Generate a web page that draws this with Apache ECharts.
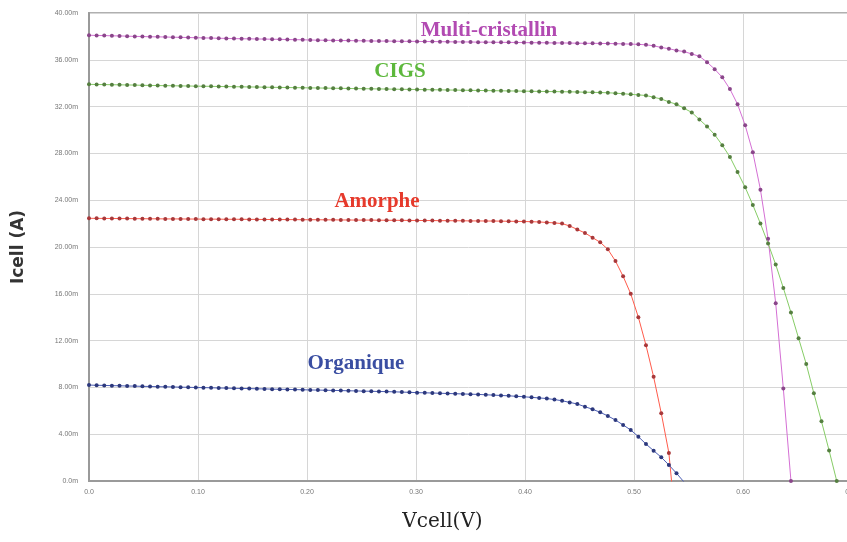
<!DOCTYPE html>
<html>
<head>
<meta charset="utf-8">
<script src="https://cdn.jsdelivr.net/npm/echarts@6/dist/echarts.min.js"></script>
<style>
  html, body { margin: 0; padding: 0; background: #fff; overflow: hidden; }
  #chart { width: 847px; height: 542px; }
</style>
</head>
<body>
<div id="chart"></div>
<script>
// voltage sweep (V), one entry per simulated point
const voltage = [
  0.000, 0.007, 0.014, 0.021, 0.028, 0.035, 0.042, 0.049, 0.056, 0.063,
  0.070, 0.077, 0.084, 0.091, 0.098, 0.105, 0.112, 0.119, 0.126, 0.133,
  0.140, 0.147, 0.154, 0.161, 0.168, 0.175, 0.182, 0.189, 0.196, 0.203,
  0.210, 0.217, 0.224, 0.231, 0.238, 0.245, 0.252, 0.259, 0.266, 0.273,
  0.280, 0.287, 0.294, 0.301, 0.308, 0.315, 0.322, 0.329, 0.336, 0.343,
  0.350, 0.357, 0.364, 0.371, 0.378, 0.385, 0.392, 0.399, 0.406, 0.413,
  0.420, 0.427, 0.434, 0.441, 0.448, 0.455, 0.462, 0.469, 0.476, 0.483,
  0.490, 0.497, 0.504, 0.511, 0.518, 0.525, 0.532, 0.539, 0.546, 0.553,
  0.560, 0.567, 0.574, 0.581, 0.588, 0.595, 0.602, 0.609, 0.616, 0.623,
  0.630, 0.637, 0.644, 0.651, 0.658, 0.665, 0.672, 0.679, 0.686, 0.693,
  0.700
];

// cell current (mA) for each technology
const multiCristallin = [
  38.10, 38.08, 38.07, 38.05, 38.04, 38.02, 38.00, 37.99, 37.97, 37.96,
  37.95, 37.93, 37.92, 37.90, 37.89, 37.87, 37.86, 37.84, 37.83, 37.81,
  37.80, 37.79, 37.78, 37.77, 37.76, 37.75, 37.73, 37.72, 37.71, 37.69,
  37.68, 37.67, 37.66, 37.65, 37.64, 37.63, 37.62, 37.61, 37.60, 37.60,
  37.59, 37.58, 37.58, 37.57, 37.56, 37.56, 37.55, 37.54, 37.53, 37.53,
  37.52, 37.51, 37.51, 37.50, 37.49, 37.49, 37.48, 37.47, 37.46, 37.46,
  37.45, 37.44, 37.44, 37.43, 37.42, 37.41, 37.41, 37.40, 37.39, 37.38,
  37.36, 37.34, 37.32, 37.28, 37.20, 37.05, 36.95, 36.80, 36.70, 36.50,
  36.30, 35.80, 35.20, 34.50, 33.50, 32.20, 30.40, 28.10, 24.90, 20.70,
  15.20, 7.90, 0.00
];
const cigs = [
  33.90, 33.89, 33.88, 33.87, 33.86, 33.85, 33.84, 33.82, 33.81, 33.80,
  33.79, 33.78, 33.77, 33.76, 33.75, 33.74, 33.73, 33.72, 33.71, 33.70,
  33.69, 33.68, 33.67, 33.66, 33.65, 33.64, 33.63, 33.62, 33.61, 33.60,
  33.59, 33.58, 33.57, 33.56, 33.55, 33.54, 33.53, 33.52, 33.51, 33.50,
  33.49, 33.48, 33.47, 33.46, 33.45, 33.44, 33.43, 33.42, 33.41, 33.40,
  33.39, 33.38, 33.37, 33.36, 33.35, 33.34, 33.33, 33.32, 33.31, 33.30,
  33.29, 33.28, 33.27, 33.26, 33.25, 33.23, 33.22, 33.20, 33.18, 33.15,
  33.10, 33.05, 33.00, 32.95, 32.80, 32.65, 32.40, 32.20, 31.85, 31.50,
  30.90, 30.30, 29.60, 28.70, 27.70, 26.40, 25.10, 23.60, 22.00, 20.30,
  18.50, 16.50, 14.40, 12.20, 10.00, 7.50, 5.10, 2.60, 0.00
];
const amorphe = [
  22.45, 22.45, 22.44, 22.44, 22.43, 22.43, 22.42, 22.42, 22.41, 22.41,
  22.40, 22.40, 22.40, 22.39, 22.39, 22.38, 22.38, 22.38, 22.37, 22.37,
  22.37, 22.36, 22.36, 22.35, 22.35, 22.35, 22.34, 22.34, 22.33, 22.33,
  22.33, 22.32, 22.32, 22.31, 22.31, 22.30, 22.30, 22.30, 22.29, 22.29,
  22.28, 22.28, 22.27, 22.27, 22.26, 22.26, 22.25, 22.25, 22.24, 22.24,
  22.23, 22.23, 22.22, 22.22, 22.21, 22.20, 22.19, 22.18, 22.16, 22.14,
  22.10, 22.06, 22.00, 21.80, 21.50, 21.20, 20.80, 20.40, 19.80, 18.80,
  17.50, 16.00, 14.00, 11.60, 8.90, 5.80, 2.40, -4.50
];
const organique = [
  8.20, 8.18, 8.17, 8.15, 8.14, 8.12, 8.11, 8.09, 8.08, 8.06,
  8.05, 8.04, 8.02, 8.01, 7.99, 7.98, 7.97, 7.95, 7.94, 7.92,
  7.91, 7.90, 7.88, 7.87, 7.85, 7.84, 7.83, 7.81, 7.80, 7.78,
  7.77, 7.76, 7.74, 7.73, 7.71, 7.70, 7.68, 7.67, 7.65, 7.64,
  7.62, 7.60, 7.58, 7.55, 7.54, 7.52, 7.50, 7.48, 7.46, 7.44,
  7.42, 7.40, 7.37, 7.34, 7.31, 7.28, 7.24, 7.20, 7.15, 7.10,
  7.05, 6.96, 6.86, 6.72, 6.58, 6.35, 6.13, 5.87, 5.56, 5.21,
  4.79, 4.36, 3.79, 3.16, 2.59, 2.03, 1.37, 0.66, -0.10
];

const voltageTicks = ['0.0', '0.10', '0.20', '0.30', '0.40', '0.50', '0.60', '0.70'];
const currentTicks = ['0.0m', '4.00m', '8.00m', '12.00m', '16.00m', '20.00m',
  '24.00m', '28.00m', '32.00m', '36.00m', '40.00m'];

const seriesNames = ['Multi-cristallin', 'CIGS', 'Amorphe', 'Organique'];

const chart = echarts.init(document.getElementById('chart'));

// line colour, marker colour, label colour
const styles = [
  ['#d46fd4', '#8a468a', '#b24ab2'],
  ['#86cc66', '#557f40', '#5db83c'],
  ['#ff5b4b', '#a8383a', '#e63a2c'],
  ['#4c5eb4', '#2c387c', '#3a4ea2']
];
const allCurrents = [multiCristallin, cigs, amorphe, organique];

const series = allCurrents.map((cur, k) => ({
  name: seriesNames[k],
  type: 'line',
  data: cur.map((c, i) => [voltage[i], c]),
  showSymbol: true,
  symbol: 'circle',
  symbolSize: 4,
  clip: true,
  lineStyle: { color: styles[k][0], width: 1 },
  itemStyle: { color: styles[k][1], borderWidth: 0 },
  emphasis: { disabled: true }
}));

// curve labels placed next to each curve (pixel positions)
const labelPos = [[489, 31], [400, 72], [377, 202], [356, 364]];
const graphic = seriesNames.map((name, k) => ({
  type: 'text',
  x: labelPos[k][0],
  y: labelPos[k][1],
  z: 100,
  style: {
    text: name,
    fill: styles[k][2],
    font: 'bold 21px "Liberation Serif", serif',
    align: 'center',
    verticalAlign: 'middle'
  }
}));

chart.setOption({
  animation: false,
  backgroundColor: '#fff',
  grid: {
    left: 89, right: -5, top: 13, bottom: 61,
    containLabel: false,
    outerBoundsMode: 'none',
    show: true, borderColor: '#b0b0b0', borderWidth: 2
  },
  xAxis: {
    type: 'value',
    min: 0, max: 0.7, interval: 0.1,
    name: 'Vcell(V)',
    nameLocation: 'middle',
    nameGap: 31,
    nameTextStyle: {
      fontFamily: '"DejaVu Serif", serif', fontSize: 20, color: '#222',
      padding: [0, 56, 0, 0]
    },
    axisLine: { show: true, lineStyle: { color: '#9a9a9a', width: 2 } },
    axisTick: { show: false },
    axisLabel: {
      fontSize: 7, color: '#777', margin: 8,
      formatter: (v) => voltageTicks[Math.round(v / 0.1)]
    },
    splitLine: { show: true, lineStyle: { color: '#d6d6d6', width: 1 } }
  },
  yAxis: {
    type: 'value',
    min: 0, max: 40, interval: 4,
    name: 'Icell (A)',
    nameLocation: 'middle',
    nameGap: 62,
    nameTextStyle: {
      fontFamily: '"DejaVu Sans", sans-serif', fontWeight: 'bold',
      fontSize: 17, color: '#333'
    },
    axisLine: { show: true, lineStyle: { color: '#9a9a9a', width: 2 } },
    axisTick: { show: false },
    axisLabel: {
      fontSize: 7, color: '#777', margin: 11,
      formatter: (v) => currentTicks[Math.round(v / 4)]
    },
    splitLine: { show: true, lineStyle: { color: '#d6d6d6', width: 1 } }
  },
  graphic: graphic,
  series: series
});
</script>
</body>
</html>
